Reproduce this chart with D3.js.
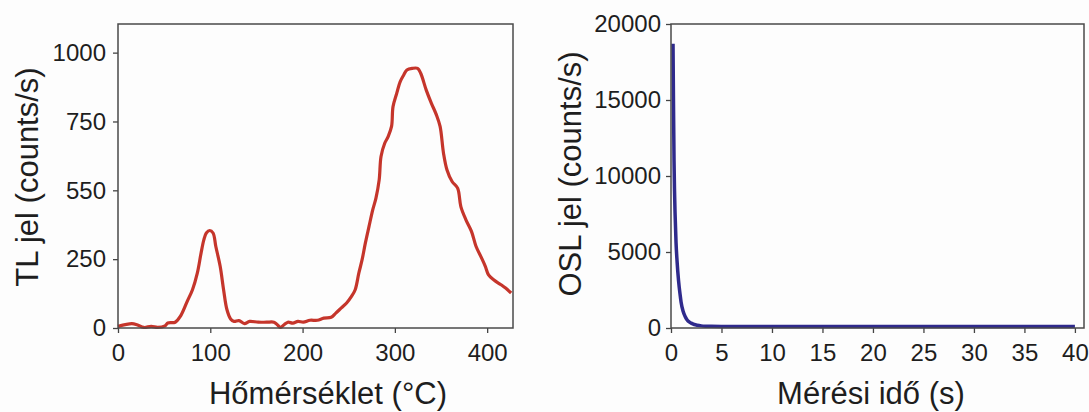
<!DOCTYPE html>
<html>
<head>
<meta charset="utf-8">
<script src="https://cdn.jsdelivr.net/npm/d3@7"></script>
<style>
  html, body { margin: 0; padding: 0; background: #fdfdfd; }
  svg { display: block; }
  text { font-family: "Liberation Sans", Arial, sans-serif; fill: #1e1e1e; }
</style>
</head>
<body>
<script>
// ---------- data ----------
const tlTemp = [0, 15, 20.6, 28, 36, 43, 51, 54, 62, 67.5, 75, 80.7, 86, 90, 93, 95.7, 99.4, 103, 106, 110.7, 114.4, 118, 122, 125.7, 131, 137, 142.6, 152, 161, 169, 172.6, 176, 180, 184, 189.5, 195, 200.8, 208, 216, 223, 231, 236, 242, 247.7, 253, 257, 261, 264.5, 268, 272, 276, 279.5, 283, 285, 289, 292.7, 296.4, 298, 302, 305.8, 309.6, 313, 319, 324.6, 328, 334, 339.6, 345, 349, 352.7, 356.5, 362, 368, 371.5, 377, 383, 388, 394, 398, 401.5, 407, 415, 420, 426];
const tlSignal = [6, 16, 12, 2, 6, 2, 8, 18, 21, 42, 97, 139, 200, 272, 320, 345, 354, 345, 296, 224, 139, 67, 33, 24, 27, 16, 24, 21, 21, 21, 12, 2, 12, 21, 18, 24, 21, 28, 28, 36, 39, 54, 73, 91, 115, 139, 200, 248, 308, 369, 429, 472, 538, 623, 671, 695, 732, 804, 852, 895, 919, 937, 943, 943, 925, 864, 816, 774, 732, 635, 574, 532, 508, 441, 393, 351, 296, 254, 224, 193, 175, 157, 145, 127];
const tlYTicks = [0, 250, 500, 750, 1000];
const tlYTickLabels = ["0", "250", "550", "750", "1000"];
const tlXTicks = [0, 100, 200, 300, 400];

const oslTime = [0.2, 0.25, 0.3, 0.35, 0.4, 0.5, 0.6, 0.75, 0.9, 1.0, 1.2, 1.4, 1.6, 1.8, 2.0, 2.3, 2.6, 3.0, 3.5, 4, 5, 10, 20, 30, 40];
const oslSignal = [18700, 14500, 11000, 9000, 7600, 5600, 4400, 3100, 2200, 1700, 1100, 750, 530, 400, 320, 230, 180, 140, 120, 110, 100, 100, 95, 95, 100];
const oslYTicks = [0, 5000, 10000, 15000, 20000];
const oslXTicks = [0, 5, 10, 15, 20, 25, 30, 35, 40];

// ---------- drawing ----------
const W = 1089, H = 412;
const svg = d3.select("body").append("svg").attr("width", W).attr("height", H);
svg.append("rect").attr("width", W).attr("height", H).attr("fill", "#fdfdfd");

function panel(opts) {
  const x = d3.scaleLinear().domain(opts.xDomain).range([opts.left, opts.right]);
  const y = d3.scaleLinear().domain(opts.yDomain).range([opts.bottom, opts.top]);
  const g = svg.append("g");

  const xa = g.append("g").attr("transform", `translate(0,${opts.bottom})`)
    .call(d3.axisBottom(x).tickValues(opts.xTicks).tickSize(5).tickPadding(11).tickSizeOuter(0));
  const ya = g.append("g").attr("transform", `translate(${opts.left},0)`)
    .call(d3.axisLeft(y).tickValues(opts.yTicks).tickSize(5).tickPadding(opts.yPad).tickSizeOuter(0)
      .tickFormat((d, i) => opts.yLabels ? opts.yLabels[i] : d));
  [xa, ya].forEach(a => {
    a.select(".domain").remove();
    a.selectAll(".tick line").attr("stroke", "#444").attr("stroke-width", 1.3);
    a.selectAll(".tick text").style("font-size", "24px").attr("fill", "#1e1e1e");
  });

  const line = d3.line().x((d, i) => x(opts.xs[i])).y(d => y(d)).curve(opts.curve);
  g.append("path").datum(opts.ys).attr("d", line)
    .attr("fill", "none").attr("stroke", opts.color).attr("stroke-width", opts.lw)
    .attr("stroke-linejoin", "round").attr("stroke-linecap", "butt");

  g.append("rect").attr("x", opts.left).attr("y", opts.top)
    .attr("width", opts.right - opts.left).attr("height", opts.bottom - opts.top)
    .attr("fill", "none").attr("stroke", "#4a4a4a").attr("stroke-width", 1.5);

  g.append("text").attr("x", opts.xtX).attr("y", 404).attr("text-anchor", "middle")
    .style("font-size", "31px").text(opts.xTitle);
  g.append("text").attr("transform", `translate(${opts.ytX},${opts.ytY}) rotate(-90)`)
    .attr("text-anchor", "middle").style("font-size", "31px").text(opts.yTitle);
}

panel({
  left: 118, right: 513, top: 24, bottom: 328,
  xDomain: [0, 428], yDomain: [0, 1104],
  xTicks: tlXTicks, yTicks: tlYTicks, yLabels: tlYTickLabels, yPad: 7,
  xs: tlTemp, ys: tlSignal, curve: d3.curveCatmullRom.alpha(0.5), color: "#c5352b", lw: 3.2,
  xTitle: "Hőmérséklet (°C)", xtX: 328,
  yTitle: "TL jel (counts/s)", ytX: 38, ytY: 177
});

panel({
  left: 671, right: 1084, top: 24, bottom: 328,
  xDomain: [0, 40.9], yDomain: [0, 20000],
  xTicks: oslXTicks, yTicks: oslYTicks, yLabels: null, yPad: 5,
  xs: oslTime, ys: oslSignal, curve: d3.curveMonotoneX, color: "#2f2a8c", lw: 3.5,
  xTitle: "Mérési idő (s)", xtX: 871,
  yTitle: "OSL jel (counts/s)", ytX: 581, ytY: 174
});
</script>
</body>
</html>
